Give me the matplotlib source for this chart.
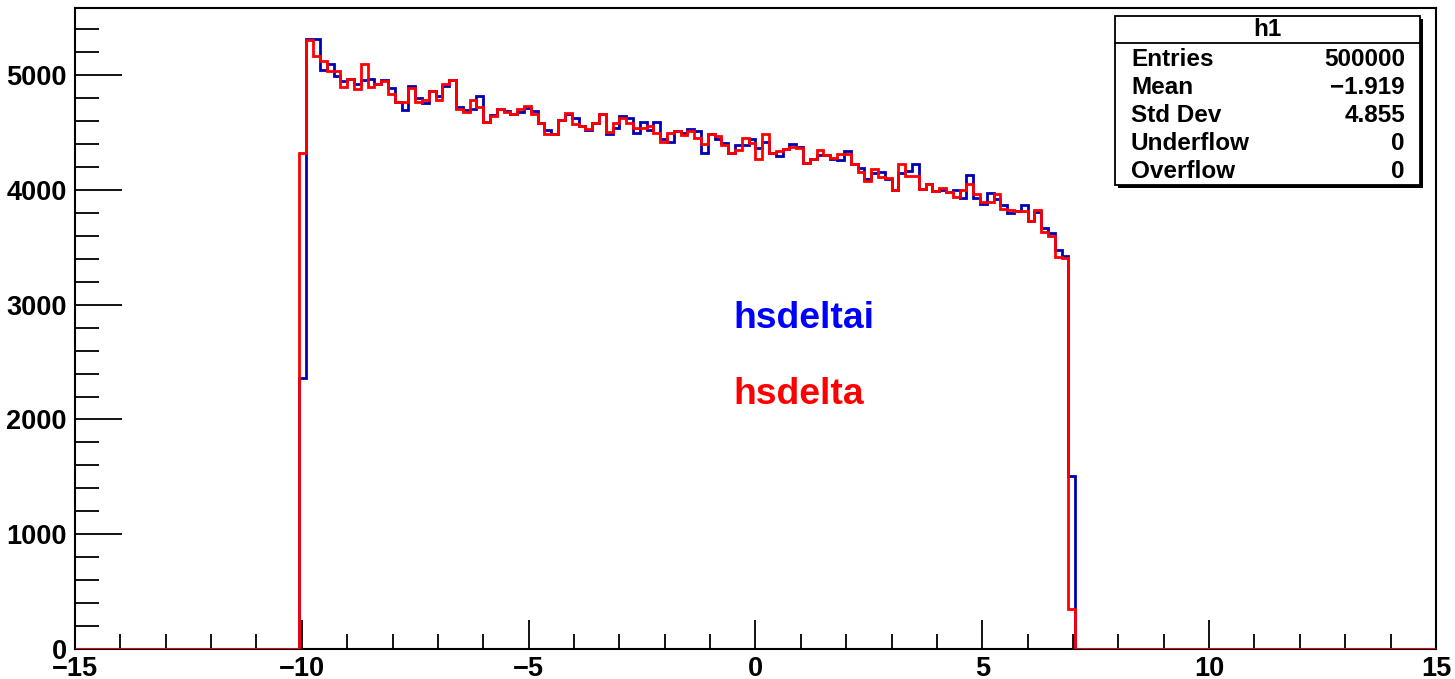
import numpy as np
import matplotlib.pyplot as plt
from matplotlib.patches import Rectangle

plt.rcParams['font.family'] = ['Liberation Sans', 'DejaVu Sans']
plt.rcParams['font.weight'] = 'bold'

# histogram binning: 200 bins over [-15, 15], filled bins start at index 33
nbins = 200
x_lo, x_hi = -15.0, 15.0
first_bin = 33

# bin contents of the filled range (bins 33..146)
hsdeltai = [
    2360, 5320, 5320, 5050, 5098, 4991, 4950, 4968, 4920, 4960,
    4968, 4927, 4955, 4890, 4768, 4696, 4903, 4800, 4760, 4860,
    4823, 4910, 4962, 4722, 4696, 4702, 4817, 4595, 4650, 4702,
    4690, 4658, 4680, 4715, 4690, 4585, 4519, 4490, 4606, 4660,
    4629, 4557, 4520, 4585, 4658, 4490, 4542, 4649, 4629, 4499,
    4595, 4520, 4595, 4446, 4417, 4513, 4499, 4528, 4513, 4325,
    4490, 4446, 4412, 4325, 4389, 4389, 4441, 4368, 4421, 4325,
    4297, 4354, 4397, 4374, 4237, 4267, 4305, 4302, 4267, 4260,
    4339, 4229, 4191, 4093, 4151, 4157, 4093, 4000, 4151, 4165,
    4229, 4012, 4055, 3991, 4000, 3985, 3997, 3933, 4128, 3933,
    3881, 3971, 3919, 3870, 3803, 3817, 3870, 3730, 3812, 3667,
    3628, 3476, 3426, 1510,
]
hsdelta = [
    4320, 5310, 5171, 5122, 5035, 5041, 4898, 4968, 4884, 5101,
    4898, 4927, 4948, 4838, 4768, 4768, 4890, 4768, 4788, 4867,
    4780, 4927, 4962, 4702, 4678, 4780, 4722, 4595, 4643, 4702,
    4681, 4658, 4702, 4730, 4664, 4585, 4490, 4490, 4606, 4672,
    4571, 4557, 4528, 4585, 4664, 4507, 4585, 4629, 4585, 4542,
    4542, 4557, 4499, 4417, 4499, 4513, 4478, 4513, 4455, 4397,
    4484, 4470, 4389, 4325, 4345, 4455, 4412, 4272, 4484, 4325,
    4339, 4354, 4374, 4368, 4237, 4267, 4345, 4302, 4280, 4310,
    4310, 4229, 4157, 4078, 4180, 4113, 4107, 4000, 4229, 4122,
    4122, 4012, 4055, 3991, 4015, 3985, 3939, 3997, 4055, 3962,
    3896, 3896, 3968, 3838, 3823, 3817, 3817, 3730, 3826, 3638,
    3600, 3417, 3406, 350,
]

stats_rows = [("Entries", "500000"), ("Mean", "\u22121.919"),
              ("Std Dev", "4.855"), ("Underflow", "0"), ("Overflow", "0")]

edges = np.linspace(x_lo, x_hi, nbins + 1)


def full_hist(vals):
    h = np.zeros(nbins)
    h[first_bin:first_bin + len(vals)] = vals
    return h


fig = plt.figure(figsize=(14.55, 6.79), dpi=100)
ax = fig.add_axes([0.0515, 0.0442, 0.9354, 0.944])

ax.stairs(full_hist(hsdeltai), edges, baseline=None, color='#0000b4', lw=2, zorder=3)
ax.stairs(full_hist(hsdelta), edges, baseline=None, color='#ff0000', lw=2, zorder=4)

ax.set_xlim(x_lo, x_hi)
ax.set_ylim(0, 5586)

ax.set_xticks(np.arange(-15, 16, 5))
ax.set_xticks(np.arange(-15, 16, 1), minor=True)
ax.set_yticks(np.arange(0, 5001, 1000))
ax.set_yticks(np.arange(0, 5501, 200), minor=True)

ax.tick_params(axis='both', which='both', direction='in', top=False, right=False,
               width=1.3, labelsize=19.5)
ax.tick_params(axis='x', which='major', length=21, pad=5)
ax.tick_params(axis='x', which='minor', length=11)
ax.tick_params(axis='y', which='major', length=34, pad=6)
ax.tick_params(axis='y', which='minor', length=17)
for lab in ax.get_xticklabels() + ax.get_yticklabels():
    lab.set_fontweight('bold')
for s in ax.spines.values():
    s.set_linewidth(1.5)
    s.set_zorder(2)

ax.text(-0.485, 2800, "hsdeltai", color='#0000ff', fontsize=26.8, fontweight='bold',
        va='baseline', ha='left')
ax.text(-0.485, 2139, "hsdelta", color='#ff0000', fontsize=26.8, fontweight='bold',
        va='baseline', ha='left')

# stats box with drop shadow
bx0, bx1 = 1115 / 1455, 1420 / 1455
by1, by0 = 1 - 16 / 679, 1 - 185 / 679
fig.patches.append(Rectangle((bx0 + 0.002, by0 - 0.004), bx1 - bx0, by1 - by0,
                             transform=fig.transFigure, facecolor='black',
                             edgecolor='none', zorder=5))
fig.patches.append(Rectangle((bx0, by0), bx1 - bx0, by1 - by0,
                             transform=fig.transFigure, facecolor='white',
                             edgecolor='black', lw=1.3, zorder=6))
line_y = 1 - 43 / 679
fig.add_artist(plt.Line2D([bx0, bx1], [line_y, line_y], transform=fig.transFigure,
                          color='black', lw=1.3, zorder=7))
fig.text((bx0 + bx1) / 2, 1 - 30 / 679, "h1", ha='center', va='center',
         fontsize=17.5, fontweight='bold', zorder=8)
for i, (name, val) in enumerate(stats_rows):
    yy = 1 - (60 + 28 * i) / 679
    fig.text(1131 / 1455, yy, name, ha='left', va='center', fontsize=17.5,
             fontweight='bold', zorder=8)
    fig.text(1405 / 1455, yy, val, ha='right', va='center', fontsize=17.5,
             fontweight='bold', zorder=8)

fig.savefig("out.png", dpi=100)
